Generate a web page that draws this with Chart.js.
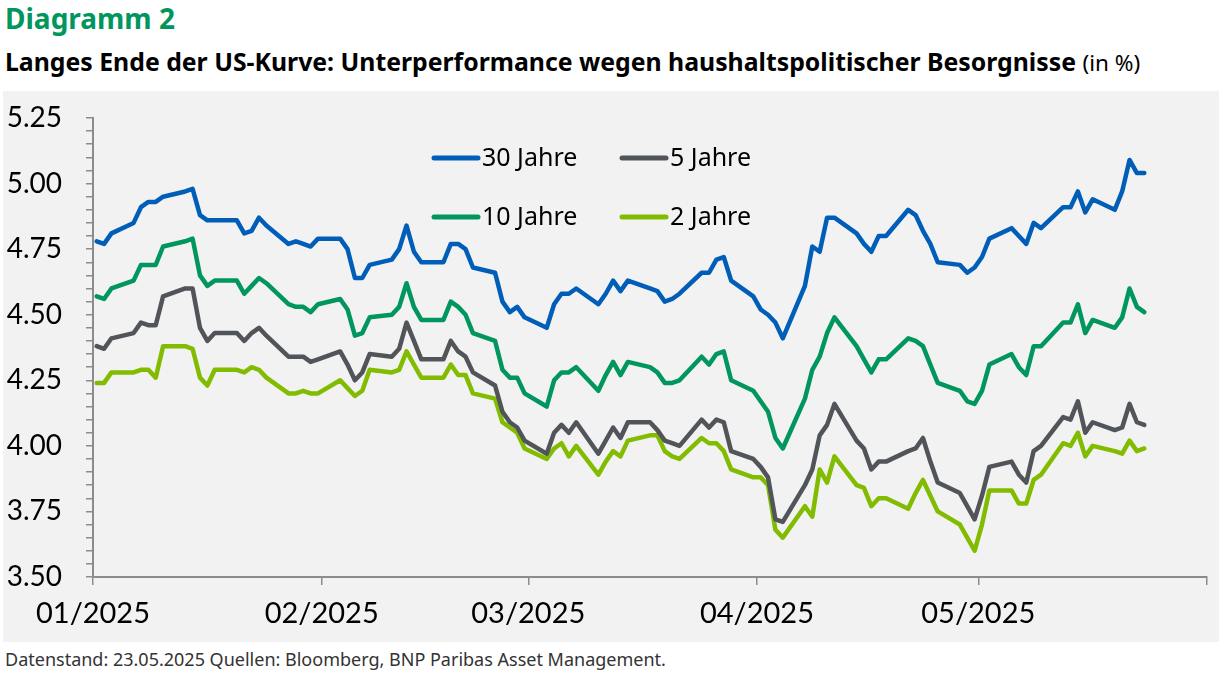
<!DOCTYPE html>
<html lang="de">
<head>
<meta charset="utf-8">
<title>Diagramm 2</title>
<script src="https://cdn.jsdelivr.net/npm/chart.js@4.4.1/dist/chart.umd.min.js"></script>
<style>
    html, body {
        margin: 0;
        padding: 0;
        background: #ffffff;
    }
    body {
        position: relative;
        width: 1222px;
        height: 675px;
        overflow: hidden;
        font-family: "Noto Sans", sans-serif;
    }
    #title {
        position: absolute;
        left: 5px;
        top: -1px;
        font-size: 28px;
        font-weight: 700;
        color: #00965e;
        white-space: nowrap;
    }
    #subtitle {
        position: absolute;
        left: 5px;
        top: 44px;
        font-size: 24.8px;
        font-weight: 700;
        color: #000;
        white-space: nowrap;
    }
    #subtitle span {
        font-weight: 400;
        font-size: 22.5px;
    }
    #panel {
        position: absolute;
        left: 3px;
        top: 91px;
        width: 1216px;
        height: 551px;
        background: #f2f2f2;
    }
    #footer {
        position: absolute;
        left: 5px;
        top: 647px;
        font-size: 18px;
        color: #333;
        white-space: nowrap;
    }
</style>
</head>
<body>
<div id="title">Diagramm 2</div>
<div id="subtitle">Langes Ende der US-Kurve: Unterperformance wegen haushaltspolitischer Besorgnisse <span>(in %)</span></div>
<div id="panel"><canvas id="yieldChart" width="1216" height="551"></canvas></div>
<div id="footer">Datenstand: 23.05.2025 Quellen: Bloomberg, BNP Paribas Asset Management.</div>

<script>
// Handelstage
const dates = [
    '2025-01-01','2025-01-02','2025-01-03','2025-01-06','2025-01-07','2025-01-08','2025-01-09','2025-01-10',
    '2025-01-13','2025-01-14','2025-01-15','2025-01-16','2025-01-17','2025-01-20','2025-01-21','2025-01-22',
    '2025-01-23','2025-01-24','2025-01-27','2025-01-28','2025-01-29','2025-01-30','2025-01-31',
    '2025-02-03','2025-02-04','2025-02-05','2025-02-06','2025-02-07','2025-02-10','2025-02-11','2025-02-12',
    '2025-02-13','2025-02-14','2025-02-17','2025-02-18','2025-02-19','2025-02-20','2025-02-21','2025-02-24',
    '2025-02-25','2025-02-26','2025-02-27','2025-02-28',
    '2025-03-03','2025-03-04','2025-03-05','2025-03-06','2025-03-07','2025-03-10','2025-03-11','2025-03-12',
    '2025-03-13','2025-03-14','2025-03-17','2025-03-18','2025-03-19','2025-03-20','2025-03-21','2025-03-24',
    '2025-03-25','2025-03-26','2025-03-27','2025-03-28','2025-03-31',
    '2025-04-01','2025-04-02','2025-04-03','2025-04-04','2025-04-07','2025-04-08','2025-04-09','2025-04-10',
    '2025-04-11','2025-04-14','2025-04-15','2025-04-16','2025-04-17','2025-04-18','2025-04-21','2025-04-22',
    '2025-04-23','2025-04-24','2025-04-25','2025-04-28','2025-04-29','2025-04-30',
    '2025-05-01','2025-05-02','2025-05-05','2025-05-06','2025-05-07','2025-05-08','2025-05-09','2025-05-12',
    '2025-05-13','2025-05-14','2025-05-15','2025-05-16','2025-05-19','2025-05-20','2025-05-21','2025-05-22',
    '2025-05-23'
];

// Renditen in % je Laufzeit
const yield30 = [
    4.78,4.77,4.81,4.85,4.91,4.93,4.93,4.95,4.97,4.98,4.88,4.86,4.86,4.86,4.81,4.82,4.87,4.84,4.77,4.78,4.77,4.76,4.79,
    4.79,4.75,4.64,4.64,4.69,4.71,4.75,4.84,4.74,4.70,4.70,4.77,4.77,4.75,4.68,4.66,4.55,4.51,4.53,4.49,
    4.45,4.54,4.58,4.58,4.60,4.54,4.58,4.63,4.59,4.63,4.60,4.59,4.55,4.56,4.58,4.66,4.66,4.71,4.72,4.63,4.57,
    4.52,4.50,4.47,4.41,4.61,4.76,4.74,4.87,4.87,4.81,4.77,4.74,4.80,4.80,4.90,4.88,4.82,4.77,4.70,4.69,4.66,4.68,
    4.72,4.79,4.83,4.80,4.77,4.85,4.83,4.91,4.91,4.97,4.89,4.94,4.90,4.97,5.09,5.04,5.04
];
const yield10 = [
    4.57,4.56,4.60,4.63,4.69,4.69,4.69,4.76,4.78,4.79,4.65,4.61,4.63,4.63,4.58,4.61,4.64,4.62,4.54,4.53,4.53,4.51,4.54,
    4.56,4.52,4.42,4.43,4.49,4.50,4.53,4.62,4.53,4.48,4.48,4.55,4.53,4.50,4.43,4.40,4.29,4.26,4.26,4.20,
    4.15,4.25,4.28,4.28,4.30,4.21,4.27,4.32,4.27,4.32,4.30,4.28,4.24,4.24,4.25,4.34,4.31,4.35,4.36,4.25,4.21,
    4.17,4.13,4.03,3.99,4.18,4.29,4.34,4.43,4.49,4.38,4.33,4.28,4.33,4.33,4.41,4.40,4.38,4.31,4.24,4.21,4.17,4.16,
    4.21,4.31,4.35,4.30,4.27,4.38,4.38,4.47,4.47,4.54,4.43,4.48,4.45,4.49,4.60,4.53,4.51
];
const yield5 = [
    4.38,4.37,4.41,4.43,4.47,4.46,4.46,4.57,4.60,4.60,4.45,4.40,4.43,4.43,4.40,4.43,4.45,4.42,4.34,4.34,4.34,4.32,4.33,
    4.36,4.31,4.25,4.28,4.35,4.34,4.37,4.47,4.40,4.33,4.33,4.40,4.36,4.34,4.28,4.23,4.13,4.09,4.07,4.02,
    3.97,4.05,4.08,4.05,4.09,3.97,4.02,4.07,4.03,4.09,4.09,4.06,4.02,4.01,4.00,4.10,4.07,4.10,4.09,3.98,3.95,
    3.92,3.88,3.72,3.71,3.85,3.91,4.04,4.08,4.16,4.02,3.99,3.91,3.94,3.94,3.98,3.99,4.03,3.94,3.86,3.82,3.77,3.72,
    3.81,3.92,3.94,3.89,3.86,3.98,4.00,4.11,4.10,4.17,4.05,4.09,4.06,4.07,4.16,4.09,4.08
];
const yield2 = [
    4.24,4.24,4.28,4.28,4.29,4.29,4.26,4.38,4.38,4.37,4.26,4.23,4.29,4.29,4.28,4.30,4.29,4.26,4.20,4.20,4.21,4.20,4.20,
    4.25,4.22,4.19,4.21,4.29,4.28,4.29,4.36,4.31,4.26,4.26,4.31,4.27,4.27,4.20,4.18,4.09,4.07,4.05,3.99,
    3.95,3.99,4.01,3.96,4.00,3.89,3.94,3.98,3.96,4.02,4.04,4.04,3.98,3.96,3.95,4.03,4.01,4.01,3.98,3.91,3.88,
    3.88,3.85,3.68,3.65,3.77,3.73,3.91,3.86,3.96,3.85,3.84,3.77,3.80,3.80,3.76,3.82,3.87,3.81,3.75,3.70,3.65,3.60,
    3.70,3.83,3.83,3.78,3.78,3.87,3.89,4.01,4.00,4.05,3.96,4.00,3.98,3.97,4.02,3.98,3.99
];

// Achsenbeschriftung
const seriesLabels = ['30 Jahre', '5 Jahre', '10 Jahre', '2 Jahre'];
const tickDates = ['2025-01-01','2025-02-01','2025-03-01','2025-04-01','2025-05-01','2025-06-01'];
const tickLabels = ['01/2025','02/2025','03/2025','04/2025','05/2025',''];

document.addEventListener('DOMContentLoaded', function() {
    const canvas = document.getElementById('yieldChart');
    if (!canvas) {
        return;
    }

    // Tage seit 01.01.2025 (Punkt in der Mitte des Tages, wie bei Excel)
    const dayOffset = function(iso) {
        return (Date.parse(iso + 'T00:00:00Z') - Date.UTC(2025, 0, 1)) / 86400000;
    };
    const xs = dates.map(d => dayOffset(d) + 0.5);
    const tickValues = tickDates.map(dayOffset);
    const toPoints = values => values.map((v, i) => ({ x: xs[i], y: v }));

    const lineStyle = {
        borderWidth: 4.5,
        pointRadius: 0,
        pointHoverRadius: 0,
        tension: 0,
        borderJoinStyle: 'round',
        borderCapStyle: 'round',
        fill: false
    };

    // Legende innerhalb der Grafik, 2 Spalten x 2 Zeilen
    const insideLegend = {
        id: 'insideLegend',
        afterDraw(chart, args, opts) {
            const ctx = chart.ctx;
            ctx.save();
            ctx.font = opts.font;
            ctx.textBaseline = 'middle';
            ctx.fillStyle = '#000';
            chart.data.datasets.forEach((ds, i) => {
                const col = i % 2;
                const row = Math.floor(i / 2);
                const x = opts.columns[col];
                const y = opts.rows[row];
                ctx.strokeStyle = ds.borderColor;
                ctx.lineWidth = 5;
                ctx.lineCap = 'round';
                ctx.beginPath();
                ctx.moveTo(x, y);
                ctx.lineTo(x + opts.lineLength, y);
                ctx.stroke();
                ctx.fillText(ds.label, x + opts.lineLength + 4, y + 1);
            });
            ctx.restore();
        }
    };

    new Chart(canvas.getContext('2d'), {
        type: 'line',
        data: {
            datasets: [
                Object.assign({ label: seriesLabels[0], data: toPoints(yield30), borderColor: '#005eb8' }, lineStyle),
                Object.assign({ label: seriesLabels[1], data: toPoints(yield5), borderColor: '#515559' }, lineStyle),
                Object.assign({ label: seriesLabels[2], data: toPoints(yield10), borderColor: '#00965e' }, lineStyle),
                Object.assign({ label: seriesLabels[3], data: toPoints(yield2), borderColor: '#82bc00' }, lineStyle)
            ]
        },
        options: {
            responsive: false,
            animation: false,
            devicePixelRatio: 1,
            layout: {
                padding: { top: 27, right: 12, bottom: 0, left: 0 }
            },
            plugins: {
                legend: { display: false },
                tooltip: { enabled: false },
                insideLegend: {
                    font: '25px "Noto Sans"',
                    columns: [431, 619],
                    rows: [67, 126],
                    lineLength: 44
                }
            },
            scales: {
                x: {
                    type: 'linear',
                    min: 0,
                    max: 151,
                    afterBuildTicks: function(scale) {
                        scale.ticks = tickValues.map(v => ({ value: v }));
                    },
                    afterFit: function(scale) {
                        scale.height = 65;
                    },
                    ticks: {
                        autoSkip: false,
                        maxRotation: 0,
                        color: '#000',
                        padding: 11,
                        font: { family: 'Lato', size: 29 },
                        callback: function(value, index) {
                            return tickLabels[index];
                        }
                    },
                    grid: {
                        drawOnChartArea: false,
                        drawTicks: true,
                        tickLength: 8,
                        color: '#8c8c8c',
                        lineWidth: 1.5
                    },
                    border: { display: true, color: '#8c8c8c', width: 2 }
                },
                y: {
                    min: 3.5,
                    max: 5.25,
                    afterFit: function(scale) {
                        // feste Breite, kein Zusatzabstand oben/unten durch die Beschriftung
                        scale.width = 90;
                        scale.paddingTop = 0;
                        scale.paddingBottom = 0;
                    },
                    ticks: {
                        stepSize: 0.05,
                        autoSkip: false,
                        color: '#000',
                        padding: 24,
                        font: { family: 'Lato', size: 28 },
                        callback: function(value) {
                            const q = value * 4;
                            return Math.abs(q - Math.round(q)) < 1e-6 ? value.toFixed(2) : '';
                        }
                    },
                    grid: {
                        drawOnChartArea: false,
                        drawTicks: true,
                        tickLength: 7,
                        color: '#8c8c8c',
                        lineWidth: 1.5
                    },
                    border: { display: true, color: '#8c8c8c', width: 2 }
                }
            }
        },
        plugins: [insideLegend]
    });
});
</script>
</body>
</html>
